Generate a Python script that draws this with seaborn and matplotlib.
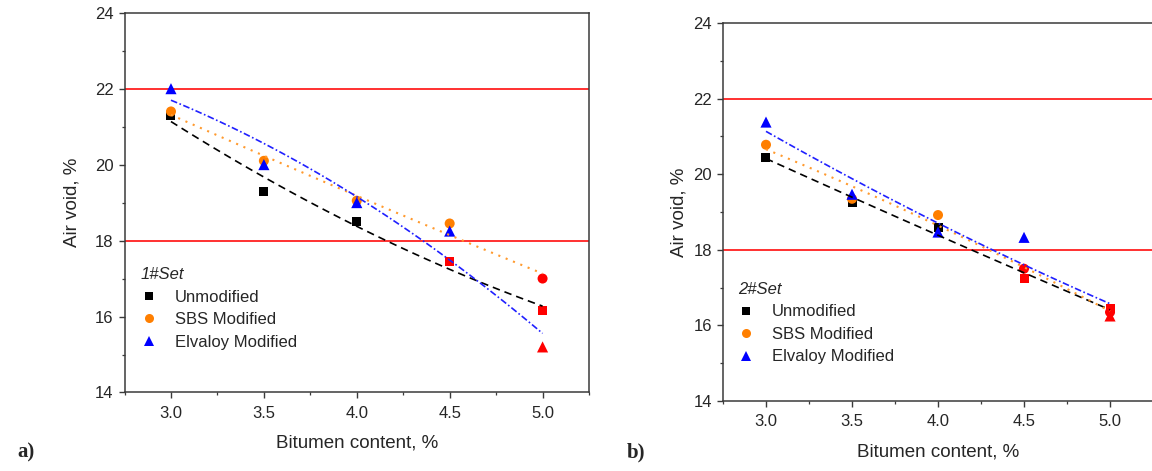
import numpy as np
import pandas as pd
import matplotlib
matplotlib.use("Agg")
import matplotlib.pyplot as plt
from matplotlib.lines import Line2D
from matplotlib.ticker import MultipleLocator, FormatStrFormatter
import seaborn as sns

## Data
bitumen = [3.0, 3.5, 4.0, 4.5, 5.0]

set1_unmod = [21.3, 19.3, 18.5, 17.45, 16.15]
set1_sbs = [21.4, 20.1, 19.05, 18.45, 17.0]
set1_elv = [22.0, 20.0, 19.0, 18.25, 15.2]

set2_unmod = [20.45, 19.25, 18.6, 17.25, 16.45]
set2_sbs = [20.78, 19.35, 18.92, 17.5, 16.35]
set2_elv = [21.38, 19.47, 18.47, 18.33, 16.25]

series_names = ["Unmodified", "SBS Modified", "Elvaloy Modified"]
set_titles = ["1#Set", "2#Set"]
panel_tags = ["a)", "b)"]
spec_low, spec_high = 18, 22

##Style
sns.set_theme(style="ticks")
plt.rcParams["font.family"] = ["Liberation Sans", "DejaVu Sans"]
plt.rcParams["axes.edgecolor"] = "#3a3a3a"
plt.rcParams["axes.linewidth"] = 1.1
plt.rcParams["xtick.color"] = "#3a3a3a"
plt.rcParams["ytick.color"] = "#3a3a3a"
plt.rcParams["xtick.labelcolor"] = "#262626"
plt.rcParams["ytick.labelcolor"] = "#262626"

colors = ["black", "#ff7f00", "#0000ff"]
markers = ["s", "o", "^"]
sizes = [42, 52, 64]
line_styles = [
    dict(color="black", lw=1.2, dashes=(4.5, 3.0)),
    dict(color="#ff9a2e", lw=1.5, dashes=(1, 2.8)),
    dict(color="#2020ff", lw=1.2, dashes=(4.0, 1.5, 1.0, 1.5)),
]

fig = plt.figure(figsize=(11.52, 4.71), dpi=100)
ax1 = fig.add_axes([0.1081, 0.1667, 0.4032, 0.8063])
ax2 = fig.add_axes([0.6276, 0.1486, 0.3733, 0.8025])

panels = [
    (ax1, [set1_unmod, set1_sbs, set1_elv], -0.094, 0.33),
    (ax2, [set2_unmod, set2_sbs, set2_elv], -0.082, 0.315),
]

for i, (ax, data, ylab_x, leg_y) in enumerate(panels):
    ax.axhline(spec_high, color="#ff3030", lw=1.4, zorder=1)
    ax.axhline(spec_low, color="#ff3030", lw=1.4, zorder=1)

    for k, y in enumerate(data):
        df = pd.DataFrame({"x": bitumen, "y": y})
        df["out"] = df["y"] < spec_low
        sns.scatterplot(data=df, x="x", y="y", hue="out",
                        palette={False: colors[k], True: "red"},
                        marker=markers[k], s=sizes[k], linewidth=0,
                        legend=False, ax=ax, zorder=3)
    for k, y in enumerate(data):
        sns.regplot(x=np.array(bitumen), y=np.array(y), order=2, ci=None,
                    scatter=False, truncate=True, ax=ax,
                    line_kws=dict(zorder=4, **line_styles[k]))

    ax.set_xlim(2.75, 5.25)
    ax.set_ylim(14, 24)
    ax.xaxis.set_major_locator(MultipleLocator(0.5))
    ax.xaxis.set_minor_locator(MultipleLocator(0.25))
    ax.yaxis.set_major_locator(MultipleLocator(2))
    ax.yaxis.set_minor_locator(MultipleLocator(1))
    ax.set_xticks([3.0, 3.5, 4.0, 4.5, 5.0])
    ax.xaxis.set_major_formatter(FormatStrFormatter("%.1f"))
    ax.tick_params(which="major", direction="out", length=4.5, width=1.0,
                   labelsize=12, pad=3.5)
    ax.tick_params(axis="x", which="major", pad=5)
    ax.tick_params(which="minor", direction="out", length=2.2, width=0.9)
    for s in ax.spines.values():
        s.set_visible(True)

    ax.set_xlabel("Bitumen content, %", fontsize=13.5, color="#262626",
                  labelpad=10)
    ax.set_ylabel("Air void, %", fontsize=13.5, color="#262626")
    ax.yaxis.set_label_coords(ylab_x, 0.5)

    handles = [Line2D([], [], ls="none", marker=markers[k], color=colors[k],
                      markersize=[5.5, 6.5, 7.5][k], markeredgewidth=0)
               for k in range(3)]
    leg = ax.legend(handles, series_names, title=set_titles[i],
                    loc="upper left", bbox_to_anchor=(0.035, leg_y),
                    frameon=False, fontsize=12, borderpad=0,
                    borderaxespad=0, handlelength=1.0, handletextpad=1.05,
                    labelspacing=0.45, alignment="left",
                    title_fontproperties={"style": "italic", "size": 12})
    for t in leg.get_texts():
        t.set_color("#262626")
    leg.get_title().set_color("#262626")

fig.text(0.015, 0.04, panel_tags[0], fontsize=15, fontweight="bold",
         family="Liberation Serif", va="center")
fig.text(0.544, 0.04, panel_tags[1], fontsize=15, fontweight="bold",
         family="Liberation Serif", va="center")

fig.savefig("out.png", dpi=100)
